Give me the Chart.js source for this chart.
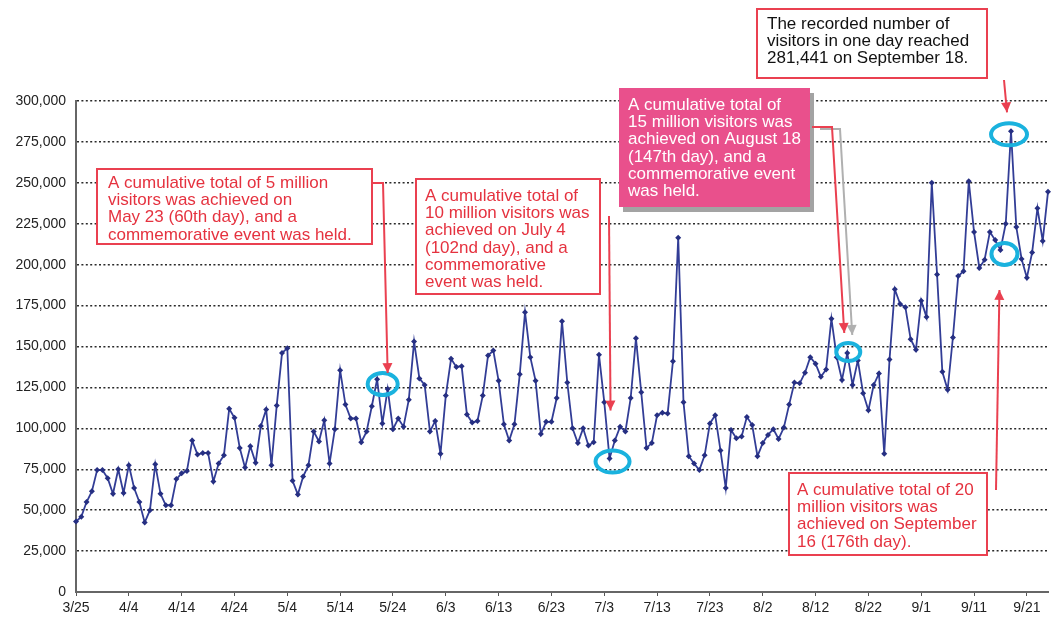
<!DOCTYPE html>
<html>
<head>
<meta charset="utf-8">
<title>Daily visitors</title>
<script src="https://cdn.jsdelivr.net/npm/chart.js@4.4.1/dist/chart.umd.min.js"></script>
<style>
  html, body { margin: 0; padding: 0; background: #fff; }
  canvas { display: block; }
</style>
</head>
<body>
<canvas id="visitors" width="1052" height="638"></canvas>
<script>
// visitors per day, 3/25 (day 1) to 9/25 (day 185)
const visitors = [
  43000, 46000, 55000, 61500, 74500, 74500, 69500, 60000, 75000, 60500,
  77500, 63500, 55000, 42500, 50000, 78000, 60000, 53000, 53000, 69000,
  72500, 74000, 92500, 84000, 85000, 85000, 67500, 78500, 83500, 112000,
  106500, 88000, 76000, 89000, 79000, 101500, 111500, 77500, 114000, 146000,
  149000, 68000, 59500, 70500, 77500, 98000, 92000, 105000, 78500, 99500,
  135500, 114500, 106000, 106000, 91500, 98000, 113500, 130000, 103000, 124000,
  99500, 106000, 101000, 117500, 153000, 130500, 126500, 98000, 104500, 84500,
  120000, 142500, 137500, 138000, 108500, 103500, 104500, 120000, 144500, 147500,
  129000, 102500, 92500, 102500, 133000, 171000, 143500, 129000, 96500, 104000,
  104000, 118500, 165500, 128000, 100000, 91000, 100000, 89500, 91500, 145000,
  116000, 81500, 92500, 101000, 98000, 118500, 155000, 122000, 88000, 91000,
  108000, 109500, 109000, 141000, 216500, 116000, 83000, 78500, 74500, 83500,
  103000, 108000, 86500, 63500, 99000, 94000, 95000, 107000, 102000, 83000,
  91000, 96000, 99500, 93500, 100500, 114500, 128000, 127500, 134000, 143500,
  139500, 131500, 136000, 167000, 143500, 129500, 146000, 126500, 141500, 121500,
  111000, 126500, 133500, 84500, 142000, 185000, 176000, 174000, 154500, 148000,
  178000, 168000, 250000, 194000, 134500, 123500, 155500, 193000, 196000, 251000,
  220000, 198000, 203000, 220000, 215000, 209000, 225000, 281441, 223000, 203500,
  192000, 207500, 234500, 214500, 244500
];

// one label every ten days
const tickLabels = ['3/25', '4/4', '4/14', '4/24', '5/4', '5/14', '5/24', '6/3', '6/13', '6/23',
  '7/3', '7/13', '7/23', '8/2', '8/12', '8/22', '9/1', '9/11', '9/21'];

const yTicks = [0, 25000, 50000, 75000, 100000, 125000, 150000, 175000, 200000, 225000, 250000, 275000, 300000];

const start = new Date(2005, 2, 25);
const days = visitors.map((v, i) => {
  const d = new Date(start);
  d.setDate(d.getDate() + i);
  return (d.getMonth() + 1) + '/' + d.getDate();
});

const RED = '#e5323f';
const RED_LINE = '#ea4050';
const CYAN = '#1ab2de';
const FONT = '17px "Liberation Sans", Arial, sans-serif';

// text boxes (pixel placement)
const boxes = [
  { x: 97, y: 169, w: 275, h: 75, tx: 108, ty: 188, color: RED, fill: '#fff', border: RED_LINE,
    lines: ['A cumulative total of 5 million', 'visitors was achieved on', 'May 23 (60th day), and a', 'commemorative event was held.'] },
  { x: 416, y: 179, w: 184, h: 115, tx: 425, ty: 201, color: RED, fill: '#fff', border: RED_LINE,
    lines: ['A cumulative total of', '10 million visitors was', 'achieved on July 4', '(102nd day), and a', 'commemorative', 'event was held.'] },
  { x: 619, y: 88, w: 191, h: 119, tx: 628, ty: 110, color: '#fff', fill: '#e9508c', shadow: '#a3a3a3',
    lines: ['A cumulative total of', '15 million visitors was', 'achieved on August 18', '(147th day), and a', 'commemorative event', 'was held.'] },
  { x: 757, y: 9, w: 230, h: 69, tx: 767, ty: 29, color: '#111', fill: '#fff', border: RED_LINE,
    lines: ['The recorded number of', 'visitors in one day reached', '281,441 on September 18.'] },
  { x: 789, y: 473, w: 198, h: 82, tx: 797, ty: 495, color: RED, fill: '#fff', border: RED_LINE,
    lines: ['A cumulative total of 20', 'million visitors was', 'achieved on September', '16 (176th day).'] }
];

// rings round the milestone days, offset from the data point
const rings = [
  { day: 59, dx: -5, dy: -5, rx: 15, ry: 11 },
  { day: 101, dx: 3, dy: 3, rx: 17, ry: 11 },
  { day: 146, dx: 1, dy: -1, rx: 12, ry: 9 },
  { day: 175, dx: 4, dy: 4, rx: 13, ry: 11 },
  { day: 177, dx: -2, dy: 3, rx: 18, ry: 11 }
];

// arrows: fixed start points, tip placed relative to the day's point
const arrows = [
  { path: [[372, 183], [383, 183]], day: 59, dx: 0, dy: -16 },
  { path: [[609, 216]], day: 101, dx: 1, dy: -48 },
  { path: [[820, 129], [840, 129]], day: 146, dx: 5, dy: -18, color: '#b0b0b0' },
  { path: [[812, 127], [832, 127]], day: 146, dx: -3, dy: -20 },
  { path: [[1004, 80]], day: 177, dx: -4, dy: -19 },
  { path: [[996, 490]], day: 175, dx: -1, dy: 40 }
];

function drawArrow(ctx, pts, color) {
  ctx.save();
  ctx.strokeStyle = color;
  ctx.fillStyle = color;
  ctx.lineWidth = 2;
  ctx.beginPath();
  ctx.moveTo(pts[0][0], pts[0][1]);
  for (let i = 1; i < pts.length; i++) ctx.lineTo(pts[i][0], pts[i][1]);
  ctx.stroke();
  const [x1, y1] = pts[pts.length - 2];
  const [x2, y2] = pts[pts.length - 1];
  const a = Math.atan2(y2 - y1, x2 - x1);
  const c = Math.cos(a), s = Math.sin(a);
  ctx.beginPath();
  ctx.moveTo(x2, y2);
  ctx.lineTo(x2 - 10 * c + 5 * s, y2 - 10 * s - 5 * c);
  ctx.lineTo(x2 - 10 * c - 5 * s, y2 - 10 * s + 5 * c);
  ctx.closePath();
  ctx.fill();
  ctx.restore();
}

const notesPlugin = {
  id: 'notes',
  afterDatasetsDraw(chart) {
    const { ctx, scales: { x, y } } = chart;
    const at = (day) => [x.getPixelForValue(day), y.getPixelForValue(visitors[day])];

    ctx.save();
    ctx.strokeStyle = CYAN;
    ctx.lineWidth = 4;
    rings.forEach(r => {
      const [px, py] = at(r.day);
      ctx.beginPath();
      ctx.ellipse(px + r.dx, py + r.dy, r.rx, r.ry, 0, 0, Math.PI * 2);
      ctx.stroke();
    });
    ctx.restore();

    boxes.forEach(b => {
      ctx.save();
      if (b.shadow) {
        ctx.fillStyle = b.shadow;
        ctx.fillRect(b.x + 4, b.y + 5, b.w, b.h);
      }
      ctx.fillStyle = b.fill;
      ctx.fillRect(b.x, b.y, b.w, b.h);
      if (b.border) {
        ctx.strokeStyle = b.border;
        ctx.lineWidth = 2;
        ctx.strokeRect(b.x, b.y, b.w, b.h);
      }
      ctx.fillStyle = b.color;
      ctx.font = FONT;
      ctx.textBaseline = 'alphabetic';
      b.lines.forEach((t, i) => ctx.fillText(t, b.tx, b.ty + i * 17.2));
      ctx.restore();
    });

    arrows.forEach(a => {
      const [px, py] = at(a.day);
      drawArrow(ctx, a.path.concat([[px + a.dx, py + a.dy]]), a.color || RED_LINE);
    });
  }
};

new Chart(document.getElementById('visitors'), {
  type: 'line',
  data: {
    labels: days,
    datasets: [{
      data: visitors,
      borderColor: '#323d96',
      borderWidth: 1.8,
      tension: 0,
      pointStyle: 'rectRot',
      pointRadius: 3,
      pointBorderWidth: 0,
      pointBackgroundColor: '#262f82'
    }]
  },
  options: {
    responsive: false,
    animation: false,
    devicePixelRatio: 1,
    layout: { padding: { top: 101, right: 1, left: 0, bottom: 0 } },
    plugins: { legend: { display: false }, tooltip: { enabled: false } },
    scales: {
      x: {
        offset: false,
        afterFit(scale) { scale.height = 46; },
        grid: {
          drawOnChartArea: false,
          tickLength: 4,
          color: (c) => (c.index % 10 === 0 ? '#555' : 'rgba(0,0,0,0)')
        },
        border: { color: '#666', width: 2 },
        ticks: {
          autoSkip: false,
          maxRotation: 0,
          padding: 4,
          color: '#222',
          font: { family: '"Liberation Sans Narrow", "Arial Narrow", "Liberation Sans", sans-serif', size: 14 },
          callback: (v, i) => (i % 10 === 0 ? tickLabels[i / 10] : '')
        }
      },
      y: {
        min: 0,
        max: 300000,
        afterFit(scale) { scale.width = 76; },
        afterBuildTicks(scale) { scale.ticks = yTicks.map(v => ({ value: v })); },
        grid: { color: '#2a2a2a', lineWidth: 1.5, drawTicks: false },
        border: { color: '#666', width: 2, dash: [2, 2.4] },
        ticks: {
          padding: 10,
          color: '#222',
          font: { family: '"Liberation Sans", Arial, sans-serif', size: 14 },
          callback: (v) => v.toLocaleString('en-US')
        }
      }
    }
  },
  plugins: [notesPlugin]
});
</script>
</body>
</html>
